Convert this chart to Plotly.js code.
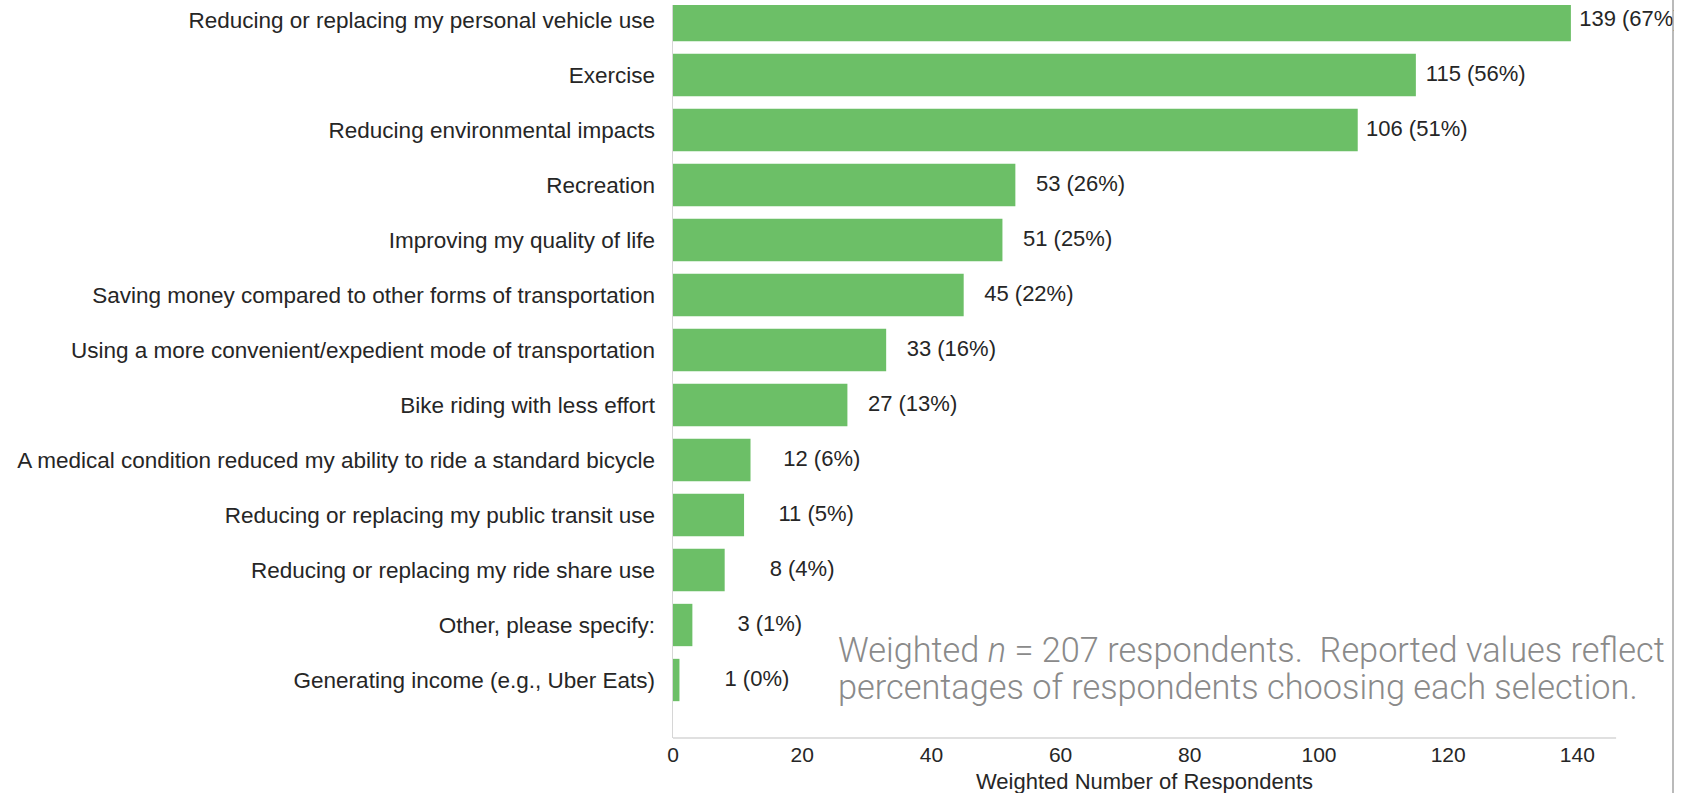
<!DOCTYPE html>
<html>
<head>
<meta charset="utf-8">
<script src="https://cdn.plot.ly/plotly-3.0.1.min.js"></script>
<style>
  html, body { margin: 0; padding: 0; background: #ffffff; }
  #chart { width: 1682px; height: 793px; }
</style>
</head>
<body>
<div id="chart"></div>
<script>
// ---- Data (top to bottom as shown) ----
const categories = [
  "Reducing or replacing my personal vehicle use",
  "Exercise",
  "Reducing environmental impacts",
  "Recreation",
  "Improving my quality of life",
  "Saving money compared to other forms of transportation",
  "Using a more convenient/expedient mode of transportation",
  "Bike riding with less effort",
  "A medical condition reduced my ability to ride a standard bicycle",
  "Reducing or replacing my public transit use",
  "Reducing or replacing my ride share use",
  "Other, please specify:",
  "Generating income (e.g., Uber Eats)"
];
const counts   = [139, 115, 106, 53, 51, 45, 33, 27, 12, 11, 8, 3, 1];
const percents = [67, 56, 51, 26, 25, 22, 16, 13, 6, 5, 4, 1, 0];
const xTickVals = [0, 20, 40, 60, 80, 100, 120, 140];
const xTitle = "Weighted Number of Respondents";
const noteLine1 = "Weighted <i>n</i> = 207 respondents.\u00a0 Reported values reflect";
const noteLine2 = "percentages of respondents choosing each selection.";

// ---- Styling / layout constants ----
const W = 1682, H = 793;
const M = { l: 673, r: 0, t: 5, b: 55 };
const PX_PER_UNIT = 6.4597;
const X_MAX = (W - M.l - M.r) / PX_PER_UNIT;   // plot runs to the page edge
const AXIS_END = 146;                          // visible axis line ends here
const LABEL_OFFSET = 17.0;        // labels right-aligned this many data units past bar end
const FONT = "Liberation Sans, Arial, Helvetica, sans-serif";
const TXT = "#262626";
const plotW = W - M.l - M.r, plotH = H - M.t - M.b;
const px2paperX = p => (p - M.l) / plotW;
const px2paperY = p => (H - M.b - p) / plotH;

const labels = counts.map((c, i) => c + " (" + percents[i] + "%)");

const bars = {
  type: "bar",
  orientation: "h",
  y: categories,
  x: counts,
  marker: { color: "#6cbf67", line: { width: 0 } },
  hoverinfo: "skip",
  showlegend: false
};

const valueText = {
  type: "scatter",
  mode: "text",
  y: categories,
  x: counts.map(c => c + LABEL_OFFSET),
  text: labels,
  textposition: "middle left",
  textfont: { family: FONT, size: 22, color: TXT },
  cliponaxis: false,
  hoverinfo: "skip",
  showlegend: false
};

const layout = {
  width: W, height: H,
  margin: M,
  paper_bgcolor: "#ffffff",
  plot_bgcolor: "#ffffff",
  bargap: 0.23,
  font: { family: FONT, color: TXT },
  xaxis: {
    range: [0, X_MAX],
    tickvals: xTickVals,
    ticktext: xTickVals.map(String),
    tickfont: { family: FONT, size: 21, color: TXT },
    showgrid: false,
    zeroline: false,
    showline: false,
    ticks: "",
    ticklen: 0,
    ticklabelstandoff: 2
  },
  yaxis: {
    type: "category",
    categoryorder: "array",
    categoryarray: categories,
    range: [(H - M.b - 20) / 55, (M.t - 20) / 55],
    tickfont: { family: FONT, size: 22.5, color: TXT },
    showgrid: false,
    zeroline: false,
    showline: true,
    linecolor: "#d6d6d6",
    linewidth: 1.5,
    ticks: "",
    ticklen: 0,
    ticklabelstandoff: 12
  },
  shapes: [
    // x-axis line (stops short of the page edge, as in the reference)
    { type: "line", xref: "x", yref: "paper", x0: 0, x1: AXIS_END, y0: 0, y1: 0,
      line: { color: "#d6d6d6", width: 1.5 }, layer: "above" },
    // crop of the right edge and the thin frame line
    { type: "rect", xref: "paper", yref: "paper",
      x0: px2paperX(1674), x1: px2paperX(W + 20), y0: px2paperY(H + 10), y1: px2paperY(-10),
      fillcolor: "#ffffff", line: { width: 0 }, layer: "above" },
    { type: "line", xref: "paper", yref: "paper",
      x0: px2paperX(1673), x1: px2paperX(1673), y0: px2paperY(H), y1: px2paperY(0),
      line: { color: "#8c8c8c", width: 1.2 }, layer: "above" }
  ],
  annotations: [
    { xref: "x", yref: "paper", x: AXIS_END / 2, y: px2paperY(781),
      xanchor: "center", yanchor: "middle", showarrow: false,
      text: xTitle, font: { family: FONT, size: 22, color: TXT } },
    { xref: "paper", yref: "paper", x: px2paperX(836), y: px2paperY(650),
      xanchor: "left", yanchor: "middle", showarrow: false, align: "left",
      text: noteLine1, font: { family: "Roboto, Open Sans, sans-serif", size: 34.3, color: "#8a8a8a", weight: 300 } },
    { xref: "paper", yref: "paper", x: px2paperX(836), y: px2paperY(686.5),
      xanchor: "left", yanchor: "middle", showarrow: false, align: "left",
      text: noteLine2, font: { family: "Roboto, Open Sans, sans-serif", size: 34.3, color: "#8a8a8a", weight: 300 } }
  ]
};

Plotly.newPlot("chart", [bars, valueText], layout, { displayModeBar: false, staticPlot: true });
</script>
</body>
</html>
